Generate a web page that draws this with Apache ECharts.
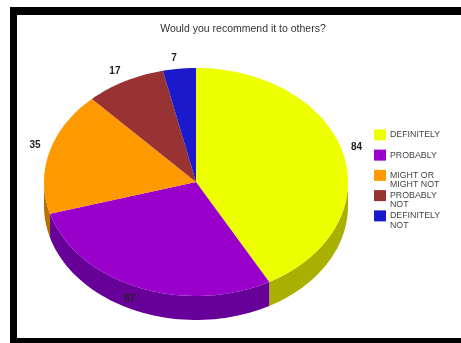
<!DOCTYPE html>
<html>
<head>
<meta charset="utf-8">
<style>
html,body{margin:0;padding:0;background:#fff;overflow:hidden}
#frame{position:absolute;left:10px;top:7px;width:451px;height:336px;box-sizing:border-box;border:solid #000;border-width:8px 0 5px 7px;background:#fff}
#chart{position:absolute;left:0;top:0;width:461px;height:343px}
</style>
<script src="https://cdn.jsdelivr.net/npm/echarts@6/dist/echarts.min.js"></script>
</head>
<body>
<div id="frame"></div>
<div id="chart"></div>
<script>
const titleText = 'Would you recommend it to others?';
const categories = ['DEFINITELY', 'PROBABLY', 'MIGHT OR\nMIGHT NOT', 'PROBABLY\nNOT', 'DEFINITELY\nNOT'];
const values = [84, 57, 35, 17, 7];
const topColors = ['#eeff00', '#9900cc', '#ff9900', '#993333', '#1a1acc'];
const sideColors = ['#aab000', '#660099', '#b87000', '#6e2424', '#121290'];

// Geometry of the tilted disc
const CX = 196, CY = 182, RX = 152, RY = 114, DEPTH = 24;
// Small hand adjustments that keep each value label clear of its slice
const labelNudges = [[3, -1], [-4, 5], [-4, -1], [-5, 2], [-4, 3]];
const total = values.reduce((a, b) => a + b, 0);

function rimPoint(deg, drop) {
  const t = deg * Math.PI / 180;
  return [CX + RX * Math.sin(t), CY - RY * Math.cos(t) + (drop || 0)];
}
function arc(from, to, drop) {
  const pts = [];
  const n = Math.max(2, Math.ceil((to - from) / 2));
  for (let i = 0; i <= n; i++) pts.push(rimPoint(from + (to - from) * i / n, drop));
  return pts;
}

// One series per answer, so the legend lists every category
let running = 0;
const series = categories.map((name, i) => {
  const start = running / total * 360;
  running += values[i];
  const end = running / total * 360;
  return {
    type: 'custom',
    name: name,
    coordinateSystem: 'none',
    itemStyle: { color: topColors[i] },
    data: [values[i]],
    renderItem() {
      const children = [];
      // The wall only shows along the front half of the rim
      const a = Math.max(start, 90), b = Math.min(end, 270);
      if (b > a) {
        const wall = arc(a, b, 0).concat(arc(a, b, DEPTH).reverse());
        children.push({ type: 'polygon', shape: { points: wall }, style: { fill: sideColors[i] } });
      }
      children.push({
        type: 'polygon',
        shape: { points: [[CX, CY]].concat(arc(start, end, 0)) },
        style: { fill: topColors[i] }
      });
      const mid = (start + end) / 2;
      const p = rimPoint(mid);
      const q = [
        CX + (p[0] - CX) * 1.07 + labelNudges[i][0],
        CY + (p[1] - CY) * 1.09 - 3 + labelNudges[i][1]
      ];
      children.push({
        type: 'text',
        z2: 10,
        style: {
          x: q[0], y: q[1], text: String(values[i]),
          align: 'center', verticalAlign: 'middle',
          font: 'bold 10px "Liberation Sans", Arial, sans-serif',
          fill: '#222'
        }
      });
      return { type: 'group', children };
    }
  };
});

const chart = echarts.init(document.getElementById('chart'), null, { renderer: 'canvas' });
chart.setOption({
  animation: false,
  backgroundColor: 'transparent',
  title: {
    text: titleText,
    left: 238, top: 19, textAlign: 'center',
    textStyle: { fontFamily: '"Liberation Sans", Arial, sans-serif', fontSize: 10.5, fontWeight: 'normal', color: '#333' }
  },
  legend: {
    orient: 'vertical',
    left: 374, top: 121,
    padding: 0,
    itemWidth: 12, itemHeight: 11,
    itemGap: -7.5,
    itemStyle: { borderWidth: 0 },
    // A blank line above keeps the swatch level with the first line of text
    formatter: name => {
      const lines = name.split('\n');
      return '\n' + lines[0] + '\n' + (lines[1] || ' ');
    },
    textStyle: { fontFamily: '"Liberation Sans", Arial, sans-serif', fontSize: 8.8, lineHeight: 9.25, color: '#444', padding: [0, 0, 0, -1] },
    data: categories.map(name => ({ name, icon: 'rect' }))
  },
  series
});
</script>
</body>
</html>
